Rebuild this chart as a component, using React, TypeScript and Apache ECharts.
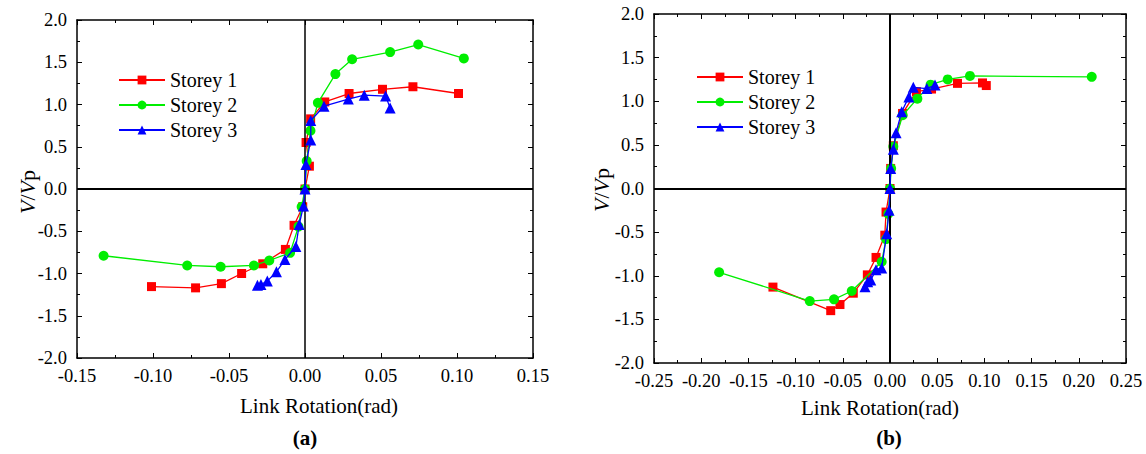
import React, { useEffect, useRef } from "react";
import * as echarts from "echarts";

// Normalised shear V/Vp against link rotation (rad), three storeys, two specimens.
const storey1A: number[][] = [
  [-0.101, -1.155], [-0.072, -1.17], [-0.055, -1.12], [-0.0417, -1.0], [-0.0278, -0.885],
  [-0.0129, -0.715], [-0.0072, -0.43], [-0.0015, -0.21], [0, 0], [0.0029, 0.27],
  [0.0007, 0.55], [0.0037, 0.83], [0.013, 1.03], [0.029, 1.13], [0.051, 1.18],
  [0.071, 1.21], [0.101, 1.13],
];
const storey2A: number[][] = [
  [-0.1325, -0.79], [-0.0775, -0.905], [-0.0555, -0.92], [-0.0336, -0.905], [-0.0235, -0.846],
  [-0.0098, -0.755], [-0.0043, -0.445], [-0.0022, -0.21], [0, 0], [0.0011, 0.33],
  [0.0036, 0.69], [0.0085, 1.02], [0.02, 1.36], [0.031, 1.535], [0.056, 1.62],
  [0.0745, 1.71], [0.1045, 1.545],
];
const storey3A: number[][] = [
  [-0.0313, -1.14], [-0.029, -1.13], [-0.0248, -1.09], [-0.0188, -0.98], [-0.0132, -0.835],
  [-0.006, -0.68], [-0.0038, -0.42], [-0.001, -0.2], [0, 0], [0.0006, 0.29],
  [0.0038, 0.58], [0.0038, 0.81], [0.0125, 0.98], [0.0285, 1.065], [0.039, 1.11],
  [0.053, 1.1], [0.056, 0.96],
];

const storey1B: number[][] = [
  [-0.124, -1.13], [-0.0628, -1.4], [-0.053, -1.33], [-0.0389, -1.2], [-0.024, -0.99],
  [-0.0148, -0.79], [-0.0055, -0.535], [-0.0042, -0.27], [0, 0], [0.0007, 0.23],
  [0.0035, 0.49], [0.0133, 0.86], [0.028, 1.11], [0.044, 1.14], [0.0715, 1.205],
  [0.098, 1.21], [0.102, 1.18],
];
const storey2B: number[][] = [
  [-0.181, -0.96], [-0.085, -1.29], [-0.0593, -1.27], [-0.0405, -1.175], [-0.0088, -0.84],
  [-0.0042, -0.58], [-0.0018, -0.29], [0, 0], [0.0012, 0.23], [0.0035, 0.48],
  [0.0134, 0.84], [0.029, 1.03], [0.043, 1.19], [0.0611, 1.25], [0.0847, 1.29],
  [0.2137, 1.28],
];
const storey3B: number[][] = [
  [-0.0265, -1.125], [-0.0236, -1.07], [-0.0204, -1.05], [-0.0148, -0.93], [-0.0088, -0.91],
  [-0.0035, -0.52], [-0.001, -0.25], [0, 0], [0.0007, 0.23], [0.0035, 0.45],
  [0.0064, 0.64], [0.0124, 0.88], [0.02, 1.05], [0.0247, 1.16], [0.039, 1.145],
  [0.0477, 1.185],
];

const seriesNames = ["Storey 1", "Storey 2", "Storey 3"];
const panelLabels = ["(a)", "(b)"];
const xTitle = "Link Rotation(rad)";
const rangeA = { min: -0.15, max: 0.15 };
const rangeB = { min: -0.25, max: 0.25 };
const yRange = { min: -2, max: 2 };

const SERIF = "Times New Roman";
const COLORS = ["#ff0000", "#00ee00", "#0000ff"];
const SYMBOLS = ["rect", "circle", "triangle"];
const SYMBOL_SIZES = [9, 10, 11];

function frameAxis(kind: "x" | "y", gridIndex: number, pos: string, range: { min: number; max: number }, interval: number, labels: boolean) {
  return {
    type: "value",
    gridIndex,
    position: pos,
    min: range.min,
    max: range.max,
    interval,
    axisLine: { show: true, onZero: false, lineStyle: { color: "#000", width: 1.5 } },
    axisTick: { show: true, inside: true, length: 5, lineStyle: { color: "#000", width: 1 } },
    minorTick: { show: true, splitNumber: 2, length: 3, lineStyle: { color: "#000", width: 1 } },
    splitLine: { show: false },
    axisLabel: {
      show: labels,
      color: "#000",
      fontFamily: SERIF,
      fontSize: 18.5,
      margin: kind === "x" ? 8 : 10,
      formatter: (v: number) => (kind === "x" ? v.toFixed(2) : v.toFixed(1)),
    },
  };
}

export default function App() {
  const ref = useRef<HTMLDivElement>(null);

  useEffect(() => {
    if (!ref.current) return;
    const chart = echarts.init(ref.current, undefined, { renderer: "svg" });

    const panels = [
      { data: [storey1A, storey2A, storey3A], vWidth: 1.5 },
      { data: [storey1B, storey2B, storey3B], vWidth: 2 },
    ];

    const series: any[] = [];
    panels.forEach((p, gi) => {
      // zero reference lines through the origin
      series.push({
        type: "line",
        name: "zero" + gi,
        xAxisIndex: gi * 2,
        yAxisIndex: gi * 2,
        data: [],
        z: 1,
        silent: true,
        markLine: {
          silent: true,
          symbol: ["none", "none"],
          label: { show: false },
          lineStyle: { color: "#000", width: 2, type: "solid" },
          data: [
            { xAxis: 0, lineStyle: { width: p.vWidth } },
            { yAxis: 0 },
          ],
        },
      });
      p.data.forEach((d, i) => {
        series.push({
          type: "line",
          name: seriesNames[i],
          xAxisIndex: gi * 2,
          yAxisIndex: gi * 2,
          data: d,
          z: 3 + i,
          symbol: SYMBOLS[i],
          symbolSize: SYMBOL_SIZES[i],
          showAllSymbol: true,
          lineStyle: { color: COLORS[i], width: 1.3 },
          itemStyle: { color: COLORS[i] },
        });
      });
    });

    const legendBase = {
      orient: "vertical",
      data: seriesNames,
      itemWidth: 46,
      itemHeight: 11,
      itemGap: 5,
      padding: 0,
      selectedMode: false,
      textStyle: { fontFamily: SERIF, fontSize: 20, color: "#000", lineHeight: 20 },
    };

    chart.setOption({
      animation: false,
      backgroundColor: "#fff",
      grid: [
        { left: 77, top: 20, width: 456, height: 338 },
        { left: 654, top: 14, width: 472, height: 349 },
      ],
      xAxis: [
        frameAxis("x", 0, "bottom", rangeA, 0.05, true),
        frameAxis("x", 0, "top", rangeA, 0.05, false),
        frameAxis("x", 1, "bottom", rangeB, 0.05, true),
        frameAxis("x", 1, "top", rangeB, 0.05, false),
      ],
      yAxis: [
        frameAxis("y", 0, "left", yRange, 0.5, true),
        frameAxis("y", 0, "right", yRange, 0.5, false),
        frameAxis("y", 1, "left", yRange, 0.5, true),
        frameAxis("y", 1, "right", yRange, 0.5, false),
      ],
      legend: [
        { ...legendBase, left: 118, top: 70 },
        { ...legendBase, left: 696, top: 67 },
      ],
      series,
      graphic: [
        ...[
          { x: 319, y: 406 },
          { x: 880, y: 408 },
        ].map((pt) => ({
          type: "text",
          x: pt.x,
          y: pt.y,
          style: { text: xTitle, fontFamily: SERIF, fontSize: 21, fill: "#000", align: "center", verticalAlign: "middle" },
        })),
        ...[
          { x: 27, y: 192 },
          { x: 601, y: 190 },
        ].map((pt) => ({
          type: "text",
          x: pt.x,
          y: pt.y,
          rotation: Math.PI / 2,
          style: {
            text: "{i|V}/{i|V}{n|p}",
            fontFamily: SERIF,
            fontSize: 22,
            fill: "#000",
            align: "center",
            verticalAlign: "middle",
            rich: {
              i: { fontStyle: "italic", fontFamily: SERIF, fontSize: 22, fill: "#000" },
              n: { fontFamily: SERIF, fontSize: 22, fill: "#000" },
            },
          },
        })),
        ...[
          { x: 305, y: 438 },
          { x: 889, y: 438 },
        ].map((pt, i) => ({
          type: "text",
          x: pt.x,
          y: pt.y,
          style: { text: panelLabels[i], fontFamily: SERIF, fontWeight: "bold", fontSize: 21, fill: "#000", align: "center", verticalAlign: "middle" },
        })),
      ],
    });

    return () => chart.dispose();
  }, []);

  return <div ref={ref} style={{ position: "absolute", left: 0, top: 0, width: 1146, height: 454 }} />;
}
